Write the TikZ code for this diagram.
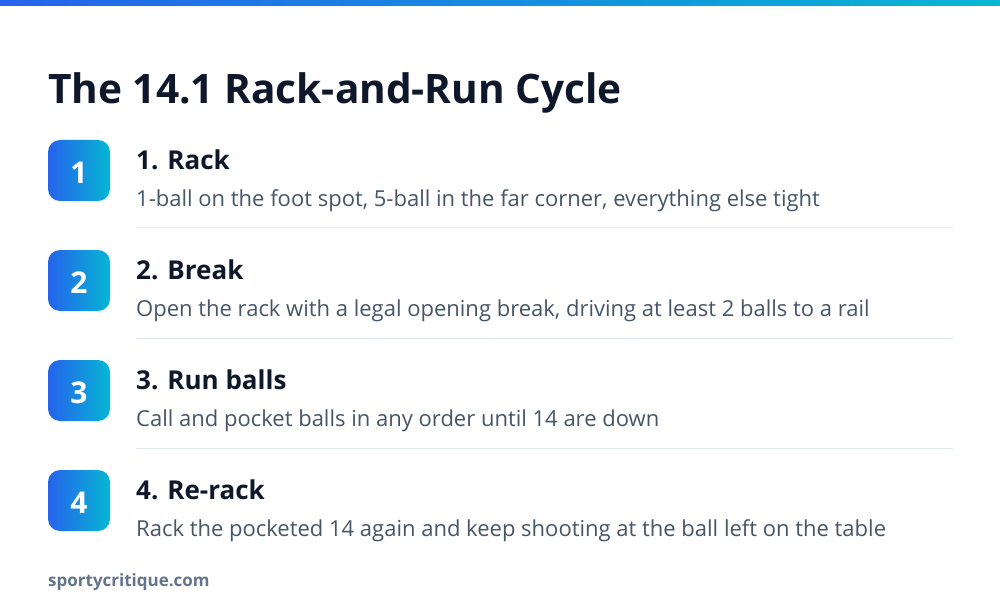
\documentclass[tikz,border=0pt]{standalone}
\usepackage{fontspec}
\setmainfont{Open Sans}
\definecolor{blueA}{HTML}{2563EB}
\definecolor{cyanA}{HTML}{06B6D4}
\definecolor{ink}{HTML}{0F172A}
\definecolor{body}{HTML}{475569}
\definecolor{foot}{HTML}{64748B}
\definecolor{rule}{HTML}{E2E8F0}
\tikzset{
  badge/.style={left color=blueA, right color=cyanA, rounded corners=12pt},
  badgenum/.style={text=white, font=\fontsize{30}{32}\selectfont\bfseries, inner sep=0pt},
  head/.style={anchor=base west, inner sep=0pt, text=ink, font=\fontsize{26}{28}\selectfont\bfseries},
  desc/.style={anchor=base west, inner sep=0pt, text=body, font=\fontsize{22}{24}\selectfont},
  sep/.style={draw=rule, line width=1pt}
}
\begin{document}
\begin{tikzpicture}[x=1pt,y=-1pt]
\useasboundingbox (0,0) rectangle (1000,612);
\fill[white] (0,0) rectangle (1000,612);
\shade[left color=blueA, right color=cyanA] (0,0) rectangle (1000,6);
\node[anchor=base west, inner sep=0pt, text=ink, font=\fontsize{40.6}{44}\selectfont\bfseries] (title) at (48,104) {The 14.1 Rack-and-Run Cycle};
\foreach \i/\h/\d [count=\k from 0] in {1/1. Rack/{1-ball on the foot spot, 5-ball in the far corner, everything else tight},
  2/2. Break/{Open the rack with a legal opening break, driving at least 2 balls to a rail},
  3/3. Run balls/{Call and pocket balls in any order until 14 are down},
  4/4. Re-rack/{Rack the pocketed 14 again and keep shooting at the ball left on the table}}{
  \pgfmathsetmacro{\yy}{140+110*\k}
  \shade[badge] (48,\yy) rectangle (110,\yy+61);
  \node[badgenum] (n\i) at (79,\yy+32.5) {\i};
  \node[head] (h\i) at (136,\yy+29.5) {\h};
  \node[desc] (d\i) at (136,\yy+66.5) {\d};
}
\foreach \k in {0,1,2}{
  \pgfmathsetmacro{\yy}{228+110*\k}
  \draw[sep] (136,\yy) -- (953,\yy);
}
\node[anchor=base west, inner sep=0pt, text=foot, font=\fontsize{17}{20}\selectfont\bfseries] (footer) at (48,586) {sportycritique.com};
\end{tikzpicture}
\end{document}
